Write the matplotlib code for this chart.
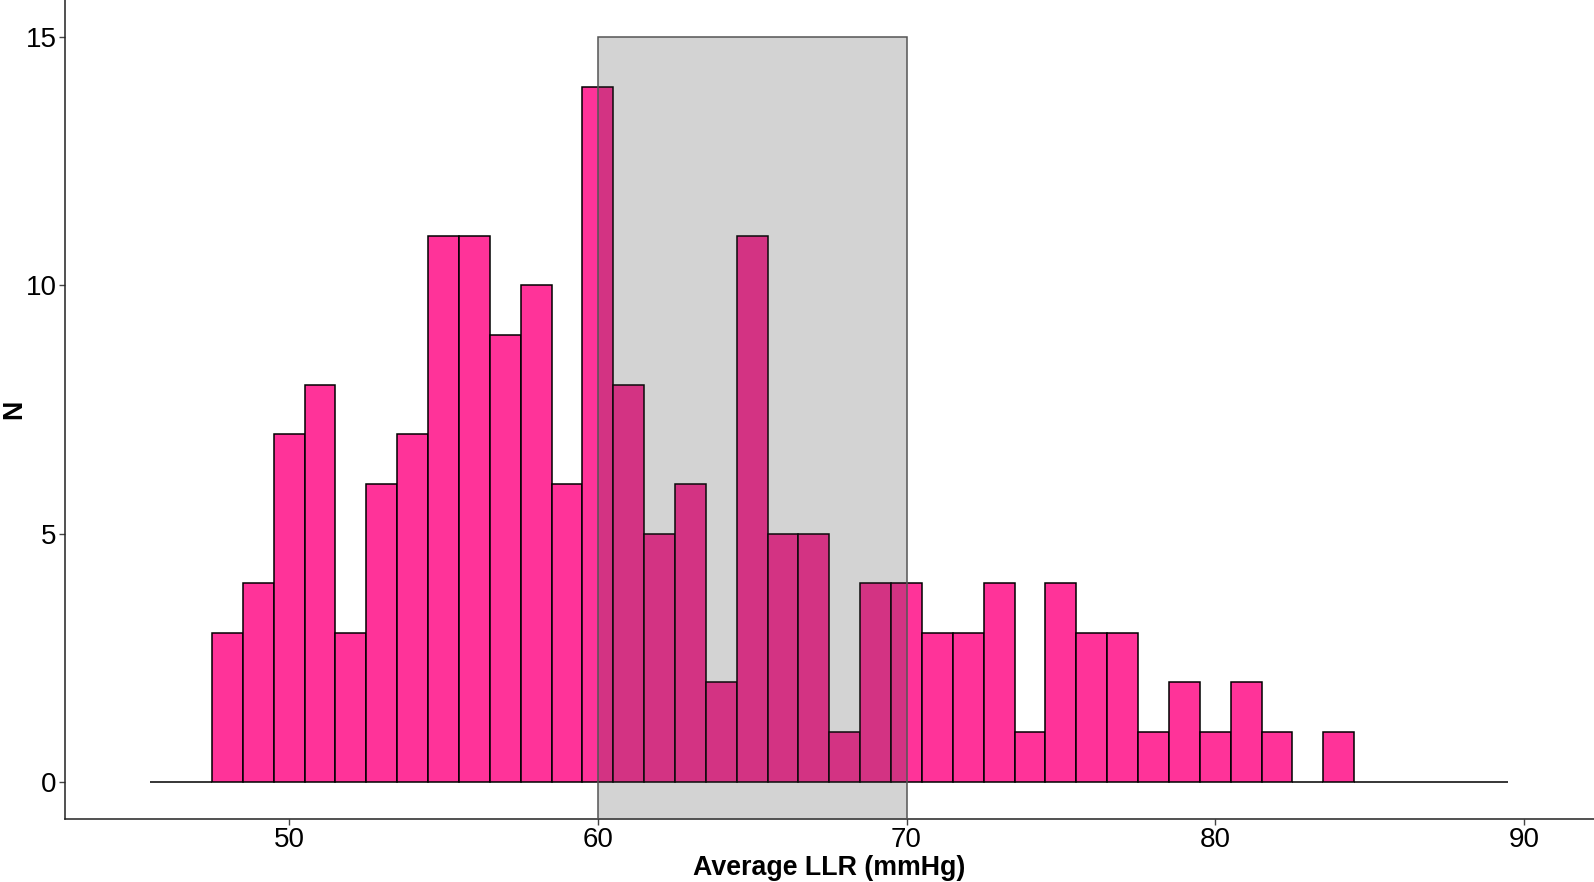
import matplotlib.pyplot as plt
from matplotlib.patches import Rectangle

plt.rcParams['font.family'] = ['Liberation Sans', 'DejaVu Sans']

# histogram bins (centre of each 1 mmHg bin) and counts
bin_centers = list(range(46, 90))
counts = [0, 0, 3, 4, 7, 8, 3, 6, 7, 11, 11, 9, 10, 6, 14, 8, 5, 6, 2, 11,
          5, 5, 1, 4, 4, 3, 3, 4, 1, 4, 3, 3, 1, 2, 1, 2, 1, 0, 1,
          0, 0, 0, 0, 0]

# shaded reference range
range_lo, range_hi, range_top = 60, 70, 15

x_ticks = [50, 60, 70, 80, 90]
y_ticks = [0, 5, 10, 15]

fig = plt.figure(figsize=(15.94, 8.82), dpi=100)
ax = fig.add_axes([65 / 1594, 63 / 882, 1529 / 1594, 819 / 882])

ax.bar(bin_centers, counts, width=1.0, color='#FF3399', edgecolor='black',
       linewidth=1.1, zorder=2)

ylo, yhi = -0.75, 15.745
ax.add_patch(Rectangle((range_lo, ylo), range_hi - range_lo, range_top - ylo,
                       facecolor='#333333', alpha=0.215, edgecolor='none', zorder=3))
ax.add_patch(Rectangle((range_lo, ylo), range_hi - range_lo, range_top - ylo,
                       facecolor='none', edgecolor='#555555', linewidth=1.1, zorder=3))

ax.set_xlim(42.74, 92.27)
ax.set_ylim(ylo, yhi)
ax.set_xticks(x_ticks)
ax.set_yticks(y_ticks)

for side in ['top', 'right']:
    ax.spines[side].set_visible(False)
for side in ['left', 'bottom']:
    ax.spines[side].set_linewidth(1.1)
    ax.spines[side].set_color('#222222')

ax.tick_params(axis='both', labelsize=20, length=4, width=1.0, color='#444444',
               labelcolor='black', pad=2)

ax.set_xlabel('Average LLR (mmHg)', fontsize=19.3, fontweight='bold')
ax.set_ylabel('N', fontsize=19.3, fontweight='bold')
ax.xaxis.set_label_coords(0.5, -0.044)
ax.yaxis.set_label_coords(-0.0245, 0.5)

fig.savefig('out.png', dpi=100)
